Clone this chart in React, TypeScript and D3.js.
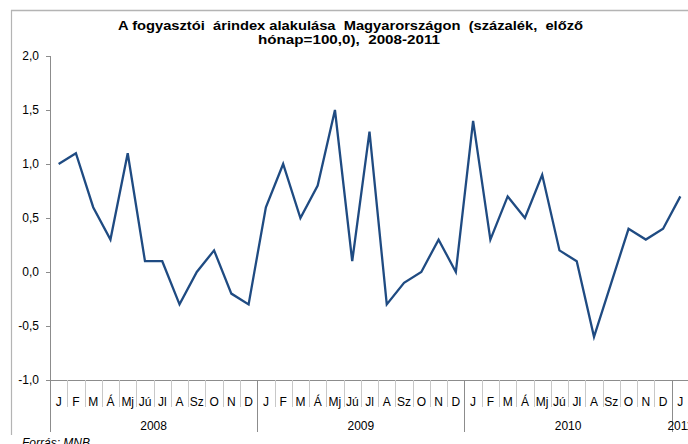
import React from "react";
import * as d3 from "d3";

const monthLabels = ["J", "F", "M", "Á", "Mj", "Jú", "Jl", "A", "Sz", "O", "N", "D"];
const years = ["2008", "2009", "2010", "2011"];
const values2008 = [1.0, 1.1, 0.6, 0.3, 1.1, 0.1, 0.1, -0.3, 0.0, 0.2, -0.2, -0.3];
const values2009 = [0.6, 1.0, 0.5, 0.8, 1.5, 0.1, 1.3, -0.3, -0.1, 0.0, 0.3, 0.0];
const values2010 = [1.4, 0.3, 0.7, 0.5, 0.9, 0.2, 0.1, -0.6, -0.1, 0.4, 0.3, 0.4];
const values2011 = [0.7];
const yTicks = [-1.0, -0.5, 0.0, 0.5, 1.0, 1.5, 2.0];
const titleLines = [
  "A fogyasztói  árindex alakulása  Magyarországon  (százalék,  előző",
  "hónap=100,0),  2008-2011",
];

export default function App() {
  const W = 688;
  const H = 444;
  const left = 50;
  const band = 17.27;
  const top = 56;
  const bottom = 380;

  const series = [values2008, values2009, values2010, values2011];
  const data: { key: string; month: string; year: string; v: number }[] = [];
  series.forEach((arr, yi) =>
    arr.forEach((v, mi) =>
      data.push({ key: `${years[yi]}-${mi}`, month: monthLabels[mi], year: years[yi], v })
    )
  );

  const x = d3
    .scaleBand<string>()
    .domain(data.map((d) => d.key))
    .range([left, left + band * data.length])
    .paddingInner(0)
    .paddingOuter(0);
  const y = d3.scaleLinear().domain([-1, 2]).range([bottom, top]);

  const line = d3
    .line<{ key: string; v: number }>()
    .x((d) => (x(d.key) as number) + x.bandwidth() / 2)
    .y((d) => y(d.v));

  const fmt = (v: number) => d3.format(".1f")(v).replace(".", ",").replace("−", "-");
  const axisColor = "#8c8c8c";
  const font = "Arial, 'Liberation Sans', sans-serif";
  const titleGeom = [
    { cx: 350.5, len: 465 },
    { cx: 349, len: 182 },
  ];

  return (
    <svg
      width={W}
      height={H}
      style={{ position: "absolute", left: 0, top: 0, background: "#fff" }}
      fontFamily={font}
    >
      {/* frame */}
      <line x1={11.5} y1={10} x2={11.5} y2={435} stroke="#b4b4b4" strokeWidth={1.2} />
      <line x1={11} y1={10.5} x2={W} y2={10.5} stroke="#b4b4b4" strokeWidth={1.5} />

      {/* title */}
      {titleLines.map((t, i) => (
        <text
          key={i}
          x={titleGeom[i].cx - titleGeom[i].len / 2}
          y={29.5 + i * 14.5}
          textLength={titleGeom[i].len}
          lengthAdjust="spacingAndGlyphs"
          fontSize={13}
          fontWeight="bold"
          fill="#000"
          style={{ whiteSpace: "pre" }}
        >
          {t}
        </text>
      ))}

      {/* y axis */}
      <line x1={left + 0.5} y1={top} x2={left + 0.5} y2={432} stroke={axisColor} strokeWidth={1} />
      {yTicks.map((t) => (
        <g key={t}>
          <line x1={left - 4} x2={left} y1={Math.round(y(t)) + 0.5} y2={Math.round(y(t)) + 0.5} stroke={axisColor} />
          <text x={39} y={y(t) + 4.2} textAnchor="end" fontSize={12} fill="#000">
            {fmt(t)}
          </text>
        </g>
      ))}

      {/* x axis */}
      <line x1={left} x2={W} y1={bottom + 0.5} y2={bottom + 0.5} stroke={axisColor} />
      {data.map((d, i) => {
        const x0 = x(d.key) as number;
        const isYearStart = i % 12 === 0;
        return (
          <g key={d.key}>
            {i > 0 && (
              <line
                x1={Math.round(x0) + 0.5}
                x2={Math.round(x0) + 0.5}
                y1={bottom}
                y2={isYearStart ? 432 : 407}
                stroke={isYearStart ? axisColor : "#c8c8c8"}
              />
            )}
            <text x={x0 + x.bandwidth() / 2} y={405.5} textAnchor="middle" fontSize={12} fill="#000">
              {d.month}
            </text>
          </g>
        );
      })}
      {years.map((yr, yi) => {
        const start = x(`${yr}-0`) as number;
        const cx = start + (yi < 3 ? (12 * band) / 2 : band / 2);
        return (
          <text key={yr} x={cx} y={430} textAnchor="middle" fontSize={12} fill="#000">
            {yr}
          </text>
        );
      })}

      {/* line */}
      <path d={line(data) || ""} fill="none" stroke="#1f4b82" strokeWidth={2.3} strokeLinejoin="miter" />

      {/* source */}
      <text x={22} y={447} fontSize={12} fontStyle="italic" fill="#000">
        Forrás: MNB
      </text>
    </svg>
  );
}
